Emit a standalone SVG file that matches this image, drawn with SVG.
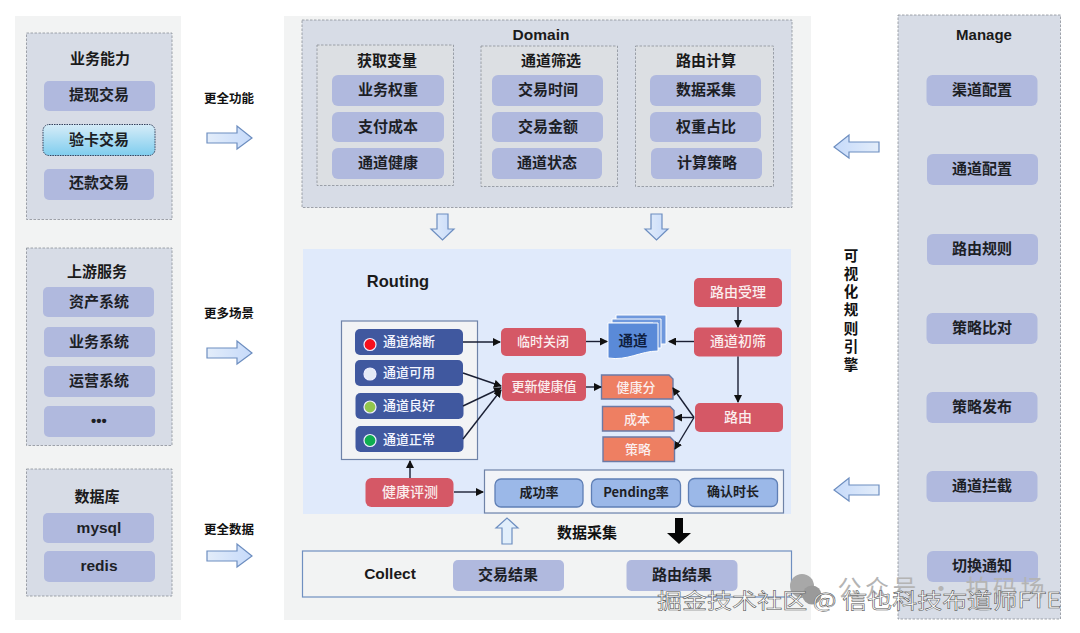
<svg xmlns="http://www.w3.org/2000/svg" width="1080" height="633" viewBox="0 0 1080 633">
<defs>
<linearGradient id="blueBtn" x1="0" y1="0" x2="0" y2="1"><stop offset="0" stop-color="#d6ecf8"/><stop offset="1" stop-color="#7fcdee"/></linearGradient>
<linearGradient id="arr" x1="0" y1="0" x2="1" y2="0"><stop offset="0" stop-color="#e3edfa"/><stop offset="1" stop-color="#c6dafa"/></linearGradient>
<marker id="ah" markerWidth="8" markerHeight="8" refX="7" refY="4" orient="auto" markerUnits="userSpaceOnUse"><path d="M0,0 L8,4 L0,8 Z" fill="#111"/></marker>
<path id="rArrow" d="M0,7 H30 V0 L45,12 L30,23 V17 H0 Z" fill="url(#arr)" stroke="#6d8ec0" stroke-width="1.2"/>
</defs>
<style>
text{font-family:"Liberation Sans","Noto Sans CJK SC",sans-serif;text-anchor:middle;dominant-baseline:central}
.cj{font-family:"Noto Sans CJK SC","Liberation Sans",sans-serif;transform:translateY(-1.5px)}
.panel{fill:#f2f3f3}
.dash{fill:#d7dce6;stroke:#8a8f98;stroke-width:.8;stroke-dasharray:2.5 1.5}
.dash2{fill:#dcdfe3;stroke:#8a8f98;stroke-width:.8;stroke-dasharray:2.5 1.5}
.btn{fill:#b0b9de}
.t{font-size:15px;font-weight:700;fill:#1d1f26}
.h{font-size:15px;font-weight:700;fill:#1a1a1a}
.en{font-size:15.500px}
.lbl{font-size:12.5px;font-weight:700;fill:#111}
.red{fill:#d55866}
.rt{font-size:14px;fill:#fbeeee;font-weight:500}
.rs{font-size:13px}
.st{fill:#40589f}
.stt{font-size:13px;fill:#f4f6ff;font-weight:500}
.or{fill:#ee7f62;stroke:#6b7aa6;stroke-width:1.4}
.mb{fill:#9bb8e8;stroke:#5f7fb5;stroke-width:1.3}
.line{fill:none;stroke:#1a1f33;stroke-width:1.4;marker-end:url(#ah)}
</style>

<rect class="panel" x="15" y="16" width="166" height="604"/>
<rect class="panel" x="284" y="16" width="527" height="604"/>

<g id="biz">
<rect class="dash" x="26.500" y="33" width="145.500" height="186.500"/>
<text class="h cj" x="100" y="59">业务能力</text>
<g id="n-tixian"><rect class="btn" x="44" y="81" width="111" height="30" rx="5"/><text class="t cj" x="99" y="95">提现交易</text></g>
<g id="n-yanka"><rect x="43" y="124.500" width="112" height="31" rx="6" fill="url(#blueBtn)" stroke="#33415c" stroke-width="1" stroke-dasharray="1.500 1"/><text class="t cj" x="99" y="140">验卡交易</text></g>
<g id="n-huankuan"><rect class="btn" x="44" y="169" width="110" height="31" rx="5"/><text class="t cj" x="99" y="183">还款交易</text></g>
</g>

<g id="upstream">
<rect class="dash" x="26.500" y="248" width="145.500" height="197.500"/>
<text class="h cj" x="97" y="272">上游服务</text>
<g id="n-zichan"><rect class="btn" x="43" y="287" width="111" height="30" rx="5"/><text class="t cj" x="99" y="302">资产系统</text></g>
<g id="n-yewu"><rect class="btn" x="44" y="327" width="111" height="30" rx="5"/><text class="t cj" x="99" y="342">业务系统</text></g>
<g id="n-yunying"><rect class="btn" x="44" y="366" width="111" height="31" rx="5"/><text class="t cj" x="99" y="381">运营系统</text></g>
<g id="n-more"><rect class="btn" x="44" y="406" width="111" height="31" rx="5"/><text class="t" x="99" y="420">•••</text></g>
</g>

<g id="db">
<rect class="dash" x="26.500" y="469" width="145.500" height="127"/>
<text class="h cj" x="97" y="497">数据库</text>
<g id="n-mysql"><rect class="btn" x="43" y="513" width="111" height="30" rx="5"/><text class="t en" x="99" y="527.500">mysql</text></g>
<g id="n-redis"><rect class="btn" x="44" y="551" width="111" height="31" rx="5"/><text class="t en" x="99" y="565.500">redis</text></g>
</g>

<text class="lbl cj" x="229" y="98.500">更全功能</text>
<text class="lbl cj" x="229" y="313.500">更多场景</text>
<text class="lbl cj" x="229" y="529.500">更全数据</text>

<g id="big-arrows">
<use href="#rArrow" x="207" y="126"/>
<use href="#rArrow" x="207" y="341"/>
<use href="#rArrow" x="207" y="544"/>
<use href="#rArrow" transform="translate(879,158) scale(-1,1)" x="0" y="-23"/>
<use href="#rArrow" transform="translate(879,502) scale(-1,1)" x="0" y="-24"/>
<path d="M437,214 H448 V229 H454 L442.500,240 L431,229 H437 Z" fill="url(#arr)" stroke="#6d8ec0" stroke-width="1.200"/>
<path d="M651,214 H662 V229 H668 L656.500,240 L645,229 H651 Z" fill="url(#arr)" stroke="#6d8ec0" stroke-width="1.200"/>
<path d="M502,544 H512 V528 H518 L507,518 L496,528 H502 Z" fill="#e2effb" stroke="#6d8ec0" stroke-width="1.200"/>
<path d="M675,518 H683 V533 H691 L679,544 L667,533 H675 Z" fill="#050505"/>
</g>

<g id="domain">
<rect class="dash" x="302" y="20" width="490" height="187.500"/>
<text class="h en" x="541" y="34">Domain</text>
<rect class="dash2" x="317" y="45" width="136.500" height="140.500"/>
<rect class="dash2" x="481" y="46" width="136.500" height="140.500"/>
<rect class="dash2" x="635.500" y="46" width="138" height="140.500"/>
<text class="h cj" x="387" y="60.500">获取变量</text>
<text class="h cj" x="551" y="60.500">通道筛选</text>
<text class="h cj" x="706" y="60.500">路由计算</text>
<g id="n-d1"><rect class="btn" x="332" y="75" width="112" height="31" rx="6"/><text class="t cj" x="388" y="90">业务权重</text></g>
<g id="n-d2"><rect class="btn" x="332" y="112" width="112" height="30" rx="6"/><text class="t cj" x="388" y="126.500">支付成本</text></g>
<g id="n-d3"><rect class="btn" x="332" y="148" width="112" height="31" rx="6"/><text class="t cj" x="388" y="163">通道健康</text></g>
<g id="n-d4"><rect class="btn" x="492" y="75" width="111" height="31" rx="6"/><text class="t cj" x="548" y="90">交易时间</text></g>
<g id="n-d5"><rect class="btn" x="492" y="112" width="111" height="30" rx="6"/><text class="t cj" x="548" y="126.500">交易金额</text></g>
<g id="n-d6"><rect class="btn" x="492" y="148" width="110" height="31" rx="6"/><text class="t cj" x="547" y="163">通道状态</text></g>
<g id="n-d7"><rect class="btn" x="650" y="75" width="111" height="31" rx="6"/><text class="t cj" x="706" y="90">数据采集</text></g>
<g id="n-d8"><rect class="btn" x="650" y="112" width="111" height="30" rx="6"/><text class="t cj" x="706" y="126.500">权重占比</text></g>
<g id="n-d9"><rect class="btn" x="651" y="148" width="111" height="31" rx="6"/><text class="t cj" x="707" y="163">计算策略</text></g>
</g>

<g id="routing">
<rect x="303" y="249" width="488" height="265" fill="#e0eafb"/>
<text class="h" x="398" y="281" style="font-size:16.500px">Routing</text>
<rect x="341.500" y="321" width="136" height="138.500" fill="#f2f3f5" stroke="#6f83a8" stroke-width="1.200"/>
<g id="n-s1"><rect class="st" x="355" y="329" width="108" height="26" rx="5"/><circle cx="370" cy="344.500" r="6" fill="#f70f1c" stroke="#eef" stroke-width="1.200"/><text class="stt cj" x="409" y="341.500">通道熔断</text></g>
<g id="n-s2"><rect class="st" x="355" y="360" width="108" height="26" rx="5"/><circle cx="370" cy="374" r="6" fill="#e4eaf6" stroke="#eef" stroke-width="1.200"/><text class="stt cj" x="409" y="372.500">通道可用</text></g>
<g id="n-s3"><rect class="st" x="355.500" y="393" width="108" height="26" rx="5"/><circle cx="370" cy="407" r="6" fill="#92c64e" stroke="#eef" stroke-width="1.200"/><text class="stt cj" x="409" y="405.500">通道良好</text></g>
<g id="n-s4"><rect class="st" x="355.500" y="426" width="108" height="26" rx="5"/><circle cx="370" cy="440.500" r="6" fill="#0fae50" stroke="#eef" stroke-width="1.200"/><text class="stt cj" x="409" y="439.500">通道正常</text></g>
<g id="n-close"><rect class="red" x="501" y="328" width="85" height="28" rx="5"/><text class="rt rs cj" x="543" y="342">临时关闭</text></g>
<g id="n-update"><rect class="red" x="502" y="373" width="84" height="28" rx="5"/><text class="rt rs cj" x="544" y="386.500">更新健康值</text></g>
<g id="n-eval"><rect class="red" x="365.500" y="478" width="88" height="29" rx="6"/><text class="rt cj" x="410" y="492">健康评测</text></g>
<g id="n-accept"><rect class="red" x="694" y="278" width="88" height="29" rx="5"/><text class="rt cj" x="738" y="292">路由受理</text></g>
<g id="n-filter"><rect class="red" x="694" y="327.500" width="88" height="29" rx="5"/><text class="rt cj" x="738" y="341.500">通道初筛</text></g>
<g id="n-route"><rect class="red" x="695" y="403" width="88" height="29" rx="5"/><text class="rt cj" x="738" y="417.500">路由</text></g>
<g id="n-channel">
<path d="M616,315 H666 V344 H656 V320 H616 Z" fill="#6f98dd" stroke="#fff" stroke-width="1"/>
<path d="M612,319 H661 V348 H653 V323 H612 Z" fill="#6f98dd" stroke="#fff" stroke-width="1"/>
<path d="M608,323 H658 V351 C640,351 628,361 608,358 Z" fill="#5a8ad8" stroke="#fff" stroke-width="1"/>
<text class="cj" x="633" y="341" font-size="14.500" font-weight="700" fill="#0f2040">通道</text>
</g>
<g id="n-score"><path class="or" d="M601.500,375 H669 L673,379 V399 H601.500 Z"/><text class="rt rs cj" x="636" y="387.500">健康分</text></g>
<g id="n-cost"><path class="or" d="M602.500,406.500 H670 L674,410.500 V431 H602.500 Z"/><text class="rt rs cj" x="637" y="419.500">成本</text></g>
<g id="n-strategy"><path class="or" d="M603,437 H670 L674.500,441.500 V461.500 H603 Z"/><text class="rt rs cj" x="638" y="450">策略</text></g>
<rect x="484.500" y="470" width="299" height="43" fill="#f2f4f8" stroke="#6f83a8" stroke-width="1.200"/>
<g id="n-m1"><rect class="mb" x="495" y="479" width="88" height="28" rx="6"/><text class="t rs cj" x="539" y="493">成功率</text></g>
<g id="n-m2"><rect class="mb" x="591.500" y="479" width="89" height="28" rx="6"/><text class="t rs cj" x="636" y="493">Pending率</text></g>
<g id="n-m3"><rect class="mb" x="688.500" y="478.500" width="89" height="28" rx="6"/><text class="t rs cj" x="733" y="492">确认时长</text></g>
</g>

<g id="connectors">
<path class="line" d="M463,342 H500"/>
<path class="line" d="M463,373 L501,386"/>
<path class="line" d="M463,406 L501,388"/>
<path class="line" d="M463,439 L501,390"/>
<path class="line" d="M410,478 V461"/>
<path class="line" d="M454,492 H483"/>
<path class="line" d="M586,341.500 H607"/>
<path class="line" d="M694,341.500 H669"/>
<path class="line" d="M738,307 V327"/>
<path class="line" d="M738,356.500 V402"/>
<path class="line" d="M586,387 H601"/>
<path class="line" d="M694,417.500 L673,388"/>
<path class="line" d="M694,417.500 H675"/>
<path class="line" d="M694,417.500 L675,449"/>
</g>

<text class="lbl cj" x="587" y="533" style="font-size:15px">数据采集</text>

<g id="collect">
<rect x="302.500" y="551" width="489" height="46" fill="none" stroke="#6f8fc0" stroke-width="1.200"/>
<text class="h en" x="390" y="573.500">Collect</text>
<g id="n-c1"><rect class="btn" x="453" y="560" width="111" height="31" rx="5"/><text class="t cj" x="508" y="575">交易结果</text></g>
<g id="n-c2"><rect class="btn" x="626.500" y="560" width="111" height="31" rx="5"/><text class="t cj" x="682" y="575">路由结果</text></g>
</g>

<g id="manage">
<rect class="dash" x="898" y="15" width="162.500" height="604"/>
<text class="h" x="984" y="34">Manage</text>
<g id="n-m01"><rect class="btn" x="926.500" y="75" width="111" height="31" rx="6"/><text class="t cj" x="982" y="90">渠道配置</text></g>
<g id="n-m02"><rect class="btn" x="927" y="154" width="111" height="31" rx="6"/><text class="t cj" x="982" y="169">通道配置</text></g>
<g id="n-m03"><rect class="btn" x="927" y="234" width="111" height="31" rx="6"/><text class="t cj" x="982" y="249">路由规则</text></g>
<g id="n-m04"><rect class="btn" x="926.500" y="313" width="111" height="31" rx="6"/><text class="t cj" x="982" y="328">策略比对</text></g>
<g id="n-m05"><rect class="btn" x="926.500" y="392" width="111" height="31" rx="6"/><text class="t cj" x="982" y="407">策略发布</text></g>
<g id="n-m06"><rect class="btn" x="926.500" y="471" width="111" height="31" rx="6"/><text class="t cj" x="982" y="486">通道拦截</text></g>
<g id="n-m07"><rect class="btn" x="927" y="551" width="111" height="31" rx="6"/><text class="t cj" x="982" y="566">切换通知</text></g>
</g>

<text id="vlabel" class="cj" font-size="14.500" font-weight="700" fill="#111" x="851" y="255"><tspan x="851" dy="0">可</tspan><tspan x="851" dy="18.300">视</tspan><tspan x="851" dy="18.300">化</tspan><tspan x="851" dy="18.300">规</tspan><tspan x="851" dy="18.300">则</tspan><tspan x="851" dy="18.300">引</tspan><tspan x="851" dy="18.300">擎</tspan></text>

<g id="watermark">
<circle cx="802" cy="586" r="12" fill="#a8a8a8"/>
<circle cx="812" cy="595" r="9.500" fill="#9a9a9a"/>
<text class="cj" x="941" y="588" font-size="24" fill="#b4b4b4" textLength="207" lengthAdjust="spacing">公众号 · 拍码场</text>
<text class="cj" x="859" y="600" font-size="21" fill="#fff" stroke="#4d4d4d" stroke-width=".5" textLength="404" lengthAdjust="spacingAndGlyphs">掘金技术社区 @ 信也科技布道师FTE</text>
</g>
</svg>
